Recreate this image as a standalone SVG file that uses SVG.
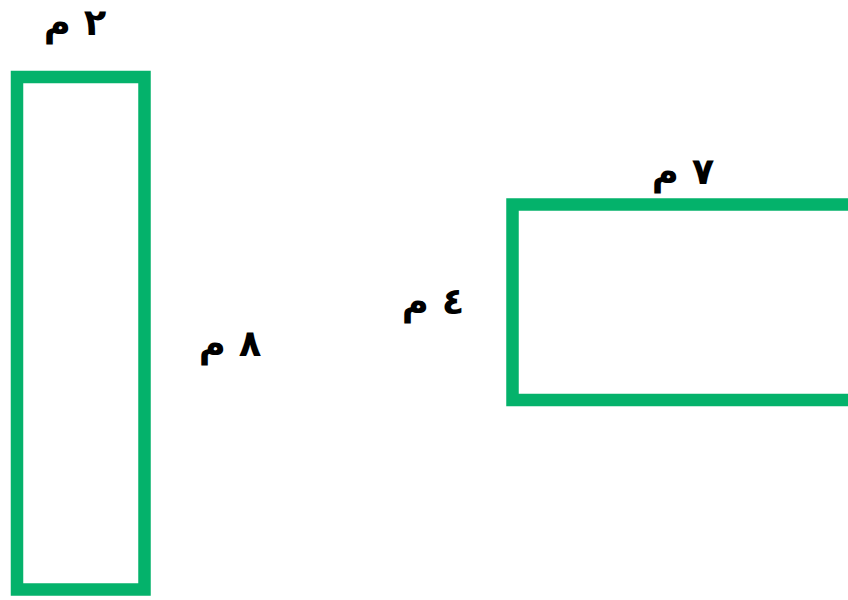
<svg xmlns="http://www.w3.org/2000/svg" width="848" height="600" viewBox="0 0 848 600">
<style>
.shape{fill:none;stroke:#04B26B;stroke-width:12.5}
.lbl{font-family:"DejaVu Sans",sans-serif;font-weight:bold;font-size:37px;fill:#000;text-anchor:middle}
</style>
<rect width="848" height="600" fill="#fff"/>
<g id="rect-tall">
<rect class="shape" x="17" y="77" width="127.5" height="512.5"/>
<text class="lbl" x="75" y="35" direction="rtl">٢ م</text>
<text class="lbl" x="230" y="356" direction="rtl">٨ م</text>
</g>
<g id="rect-wide">
<rect class="shape" x="512.5" y="204.5" width="360" height="195.5"/>
<text class="lbl" x="433" y="314" direction="rtl">٤ م</text>
<text class="lbl" x="683" y="184" direction="rtl">٧ م</text>
</g>
<g id="connectors"></g>
</svg>
